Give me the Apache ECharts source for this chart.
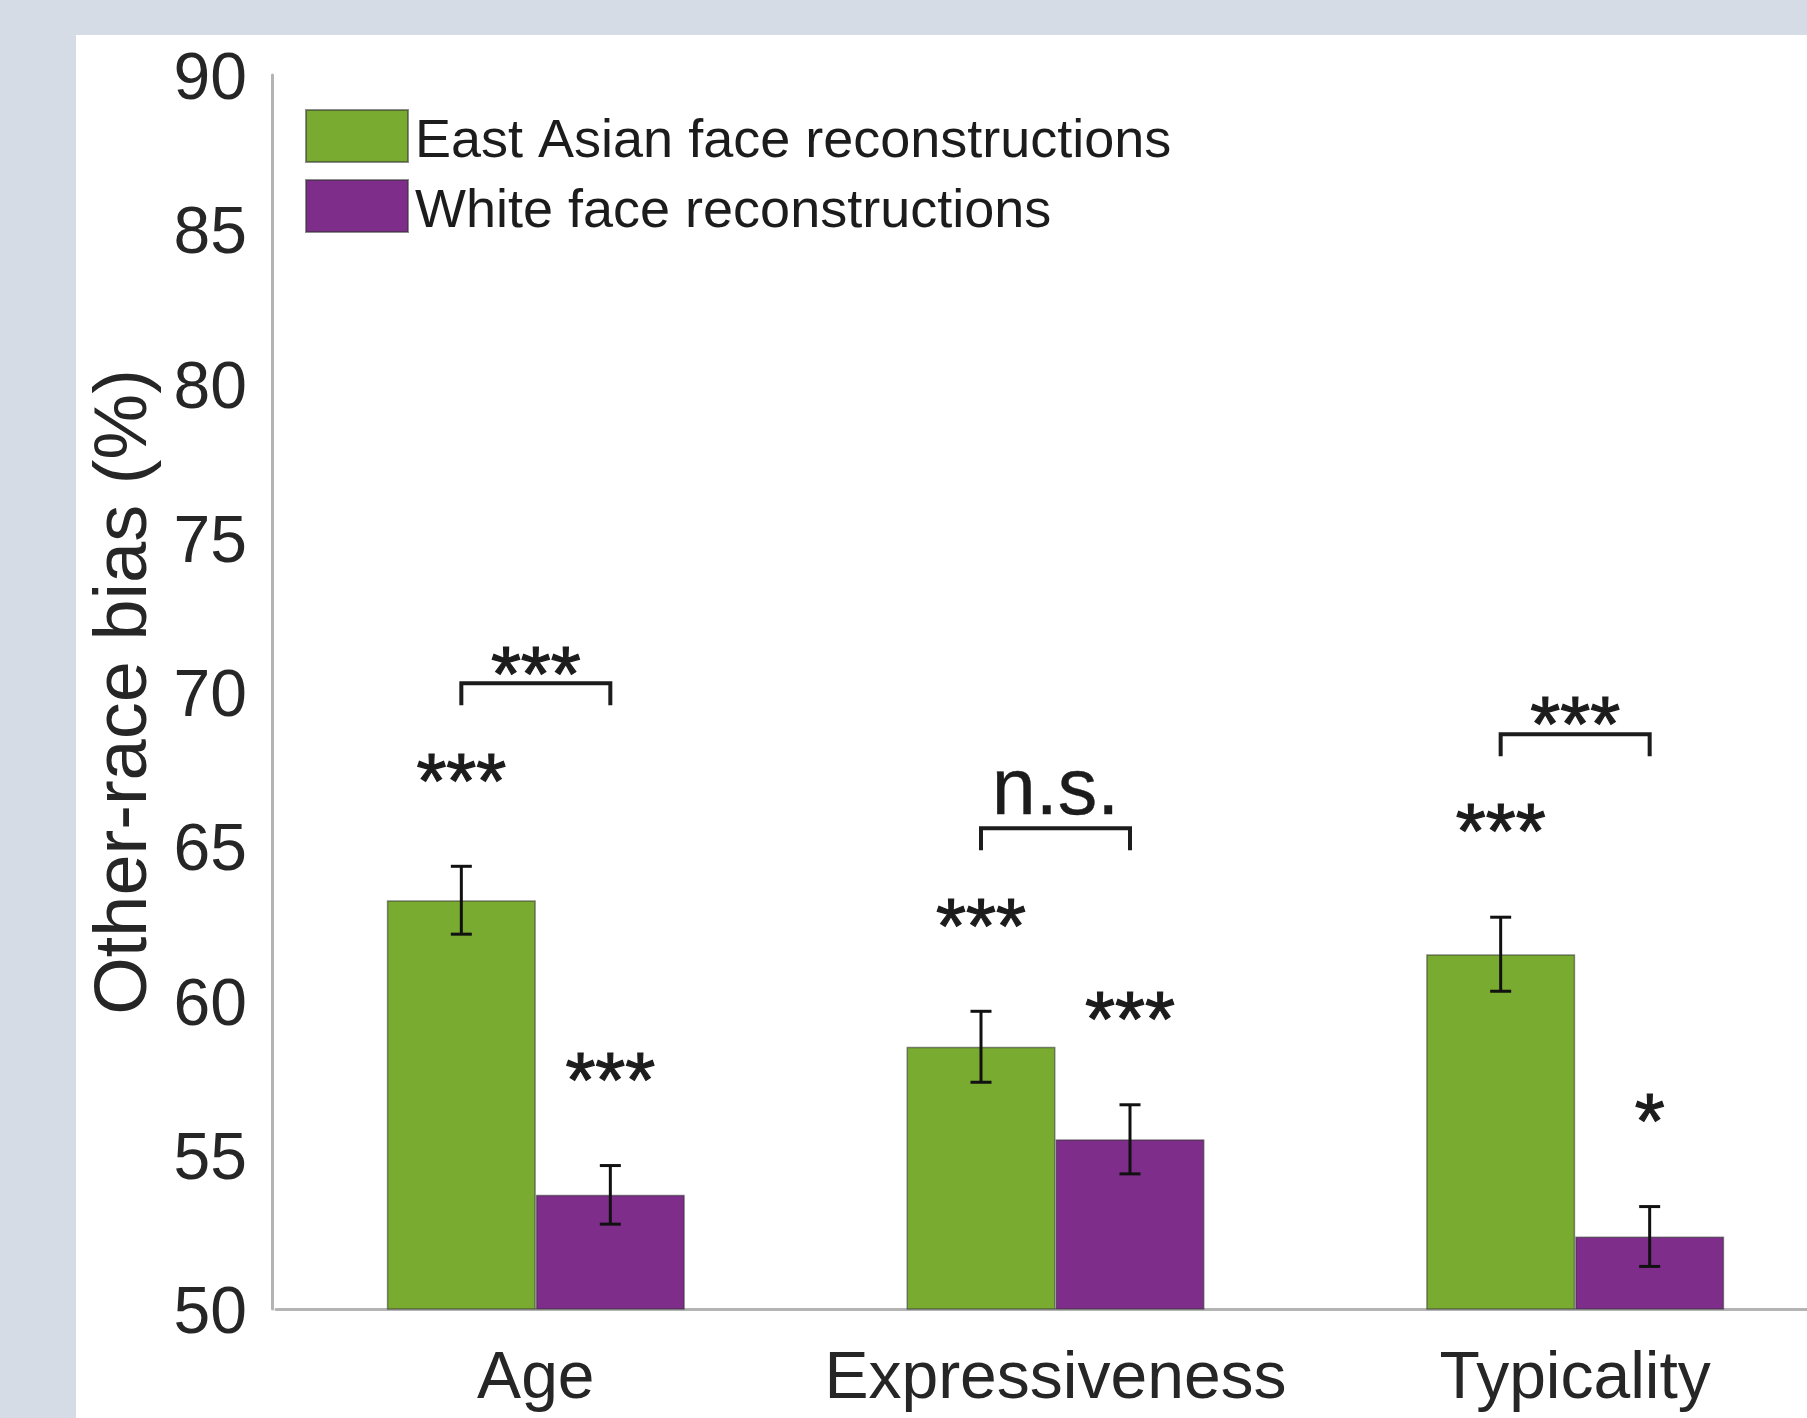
<!DOCTYPE html>
<html>
<head>
<meta charset="utf-8">
<title>Other-race bias</title>
<script src="https://cdn.jsdelivr.net/npm/echarts@6/dist/echarts.min.js"></script>
<style>
  html, body { margin: 0; padding: 0; background: #d5dce6; width: 1807px; height: 1418px; overflow: hidden; }
  #panel { position: absolute; left: 76px; top: 35px; right: 0; bottom: 0; background: #ffffff; }
  /* the plot runs slightly past the right edge of the window */
  #chart { position: absolute; left: 0; top: 0; width: 1835px; height: 1418px; }
</style>
</head>
<body>
<div id="panel"></div>
<div id="chart"></div>
<script>
// Trait categories on the x axis
const categories = ['Age', 'Expressiveness', 'Typicality'];

// Mean other-race bias (%) and standard error per reconstruction set
const eastAsian = [63.25, 58.5, 61.5];
const eastAsianErr = [1.1, 1.15, 1.2];
const white = [53.7, 55.5, 52.35];
const whiteErr = [0.95, 1.12, 0.97];

// Significance marks: each bar vs. chance, and between the two sets
const eastAsianSig = ['***', '***', '***'];
const whiteSig = ['***', '***', '*'];
const pairSig = ['***', 'n.s.', '***'];

// Y axis range and ticks
const yMin = 50, yMax = 90, yStep = 5;

const seriesNames = ['East Asian face reconstructions', 'White face reconstructions'];

const FONT = '"Liberation Sans", Arial, Helvetica, sans-serif';
const GREEN = '#78ab30';
const PURPLE = '#7e2d8a';
const INK = '#1c1c1c';
const AXIS_GRAY = '#b4b4b4';
const BAR_W = 149;

const chart = echarts.init(document.getElementById('chart'), null, { renderer: 'canvas' });

// Rows for the overlay series: index, means and errors of both sets
const rows = categories.map((c, i) => [i, eastAsian[i], eastAsianErr[i], white[i], whiteErr[i]]);

function errorBar(api, x, mean, err) {
  const top = api.coord([0, mean + err])[1];
  const bot = api.coord([0, mean - err])[1];
  const cap = 10.5;
  const st = { stroke: '#111', lineWidth: 3 };
  return [
    { type: 'line', shape: { x1: x, y1: top, x2: x, y2: bot }, style: st },
    { type: 'line', shape: { x1: x - cap, y1: top, x2: x + cap, y2: top }, style: st },
    { type: 'line', shape: { x1: x - cap, y1: bot, x2: x + cap, y2: bot }, style: st }
  ];
}

function sigText(text, x, y, size) {
  return {
    type: 'text',
    style: {
      text: text, x: x, y: y, align: 'center', verticalAlign: 'middle',
      font: size + 'px ' + FONT, fill: INK, stroke: INK, lineWidth: 1.2
    }
  };
}

function renderOverlay(params, api) {
  const i = api.value(0);
  const gMean = api.value(1), gErr = api.value(2);
  const wMean = api.value(3), wErr = api.value(4);
  const cx = api.coord([i, yMin])[0];
  const xg = cx - BAR_W / 2;
  const xw = cx + BAR_W / 2;
  const yg = api.coord([i, gMean + gErr])[1];
  const yw = api.coord([i, wMean + wErr])[1];
  const yb = Math.min(yg, yw) - 183;
  const leg = 22;

  const children = [].concat(
    errorBar(api, xg, gMean, gErr),
    errorBar(api, xw, wMean, wErr),
    [
      sigText(eastAsianSig[i], xg, yg - 80, 77),
      sigText(whiteSig[i], xw, yw - 80, 77),
      { type: 'polyline', shape: { points: [[xg, yb + leg], [xg, yb], [xw, yb], [xw, yb + leg]] },
        style: { stroke: INK, lineWidth: 4, fill: null } }
    ]
  );
  const isStars = /^\*+$/.test(pairSig[i]);
  const lbl = sigText(pairSig[i], cx, isStars ? yb - 4 : yb - 36, isStars ? 77 : 79);
  if (!isStars) { lbl.style.lineWidth = 0.4; }
  children.push(lbl);
  return { type: 'group', children: children };
}

const barBorder = { borderColor: 'rgba(50,50,50,0.55)', borderWidth: 1.5 };

chart.setOption({
  animation: false,
  textStyle: { fontFamily: FONT },
  grid: { left: 276, top: 75, right: 0, bottom: 109, containLabel: false },
  legend: {
    orient: 'vertical',
    left: 300,
    top: 104,
    itemWidth: 102,
    itemHeight: 52,
    itemGap: 10,
    icon: 'rect',
    data: seriesNames,
    formatter: '{t|{name}}',
    textStyle: {
      fontSize: 54, color: INK, fontFamily: FONT,
      rich: { t: { fontSize: 54, color: INK, fontFamily: FONT, padding: [12, 0, 0, 2] } }
    }
  },
  xAxis: {
    type: 'category',
    data: categories,
    axisTick: { show: false },
    axisLine: { show: true, lineStyle: { color: AXIS_GRAY, width: 3 } },
    axisLabel: { interval: 0, fontSize: 66, color: '#262626', margin: 38, fontFamily: FONT }
  },
  yAxis: {
    type: 'value',
    min: yMin,
    max: yMax,
    interval: yStep,
    offset: 4,
    name: 'Other-race bias (%)',
    nameLocation: 'middle',
    nameGap: 109,
    nameRotate: 90,
    nameTextStyle: { fontSize: 74, color: '#262626', fontFamily: FONT },
    splitLine: { show: false },
    axisTick: { show: false },
    axisLine: { show: true, lineStyle: { color: AXIS_GRAY, width: 3 } },
    axisLabel: { fontSize: 66, color: '#262626', margin: 25, verticalAlign: 'top', lineHeight: 12, fontFamily: FONT }
  },
  series: [
    {
      name: seriesNames[0],
      type: 'bar',
      data: eastAsian,
      barWidth: BAR_W,
      barGap: '0%',
      itemStyle: Object.assign({ color: GREEN }, barBorder),
      z: 2
    },
    {
      name: seriesNames[1],
      type: 'bar',
      data: white,
      barWidth: BAR_W,
      barGap: '0%',
      itemStyle: Object.assign({ color: PURPLE }, barBorder),
      z: 2
    },
    {
      type: 'custom',
      data: rows,
      renderItem: renderOverlay,
      clip: false,
      silent: true,
      z: 5,
      encode: { x: 0, y: 1 }
    }
  ]
});
</script>
</body>
</html>
